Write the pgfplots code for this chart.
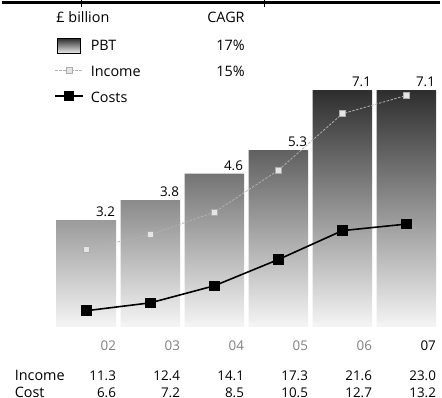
\documentclass[border=0pt]{standalone}
\usepackage{pgfplots}
\pgfplotsset{compat=1.18}
\usepackage{pgfplotstable}
\usepackage{fontspec}
\setmainfont{Open Sans}
\newcommand\f{\fontsize{13.5}{15}\selectfont}
\newcommand\g{\fontsize{14.5}{16}\selectfont}

\pgfplotstableread{
x pbt income cost year
0 3.2 11.3 6.6 02
1 3.8 12.4 7.2 03
2 4.6 14.1 8.5 04
3 5.3 17.3 10.5 05
4 7.1 21.6 12.7 06
5 7.1 23.0 13.2 07
}\data

\pgfplotsset{
  base/.style={scale only axis, width=442pt, height=412pt, at={(0,0)},
    anchor=south west, hide axis, xmin=-1.3225, xmax=5.5302, clip=false},
  lab/.style={draw=none, mark=none, nodes near coords, point meta=explicit symbolic,
    nodes near coords style={anchor=east, xshift=30pt, inner sep=0pt, font=\f, text=black}},
  lineleg/.style={legend image code/.code={\draw[mark repeat=2,mark phase=2,##1] plot coordinates {(0pt,3pt) (14pt,3pt) (28pt,3pt)};}},
  barleg/.style={legend image code/.code={\fill[top color=black!82, middle color=black!50, bottom color=black!6] (2pt,-6pt) rectangle (25pt,9pt);}},
}

\begin{document}
\begin{tikzpicture}
\begin{axis}[base, ymin=-2.4702, ymax=9.7917]
  \addplot[ybar, bar width=60pt, draw=none, top color=black!82, middle color=black!52, bottom color=black!4]
    table[x=x, y=pbt] {\data};
  \addplot[draw=none, mark=none, nodes near coords, point meta=explicit symbolic,
    nodes near coords style={anchor=south east, xshift=29pt, yshift=3pt, inner sep=0pt, font=\f, text=black}]
    table[x=x, y=pbt, meta=pbt] {\data};
  % table below
  \addplot[lab, restrict x to domain=0:4, nodes near coords style={text=black!50}]
    table[x=x, y expr=-0.565, meta=year] {\data};
  \addplot[lab, restrict x to domain=4.5:5.5]
    table[x=x, y expr=-0.565, meta=year] {\data};
  \addplot[lab] table[x=x, y expr=-1.458, meta=income] {\data};
  \addplot[lab] table[x=x, y expr=-1.964, meta=cost] {\data};
  \node[anchor=west, inner sep=0pt, font=\g] at (rel axis cs:0.0294,0.0825) {Income};
  \node[anchor=west, inner sep=0pt, font=\g] at (rel axis cs:0.0294,0.0413) {Cost};
  % header
  \node[anchor=west, inner sep=0pt, font=\g] at (rel axis cs:0.1244,0.9587) {£ billion};
  \node[anchor=east, inner sep=0pt, font=\g] at (rel axis cs:0.5543,0.9587) {CAGR};
  % top rule
  \draw[line width=3.5pt] (rel axis cs:0,0.9951) -- (rel axis cs:1,0.9951);
  \draw[line width=1pt] (rel axis cs:0.181,1) -- (rel axis cs:0.181,0.985);
  \draw[line width=1pt] (rel axis cs:0.600,1) -- (rel axis cs:0.600,0.985);
\end{axis}
\begin{axis}[base, ymin=-0.9070, ymax=30.234,
    legend cell align=left,
    legend style={draw=none, fill=none, inner sep=0pt, at={(0.1199,0.9078)}, anchor=north west,
      font=\g, row sep=11pt, column sep=7pt,
      nodes={inner sep=0pt, text height=11pt, text depth=4pt}}]
  \addlegendimage{barleg}
  \addlegendentry{\makebox[155pt]{PBT\hfill 17\%}}
  \addplot[lineleg, gray!60, line width=0.8pt, dash pattern=on 2.5pt off 1.5pt,
    mark=square*, mark size=3pt, mark options={solid, fill=gray!20, draw=gray!65}]
    table[x=x, y=income] {\data};
  \addlegendentry{\makebox[155pt]{Income\hfill 15\%}}
  \addplot[lineleg, black, line width=1.6pt, mark=square*, mark size=4.5pt]
    table[x=x, y=cost] {\data};
  \addlegendentry{Costs}
\end{axis}
\end{tikzpicture}
\end{document}
